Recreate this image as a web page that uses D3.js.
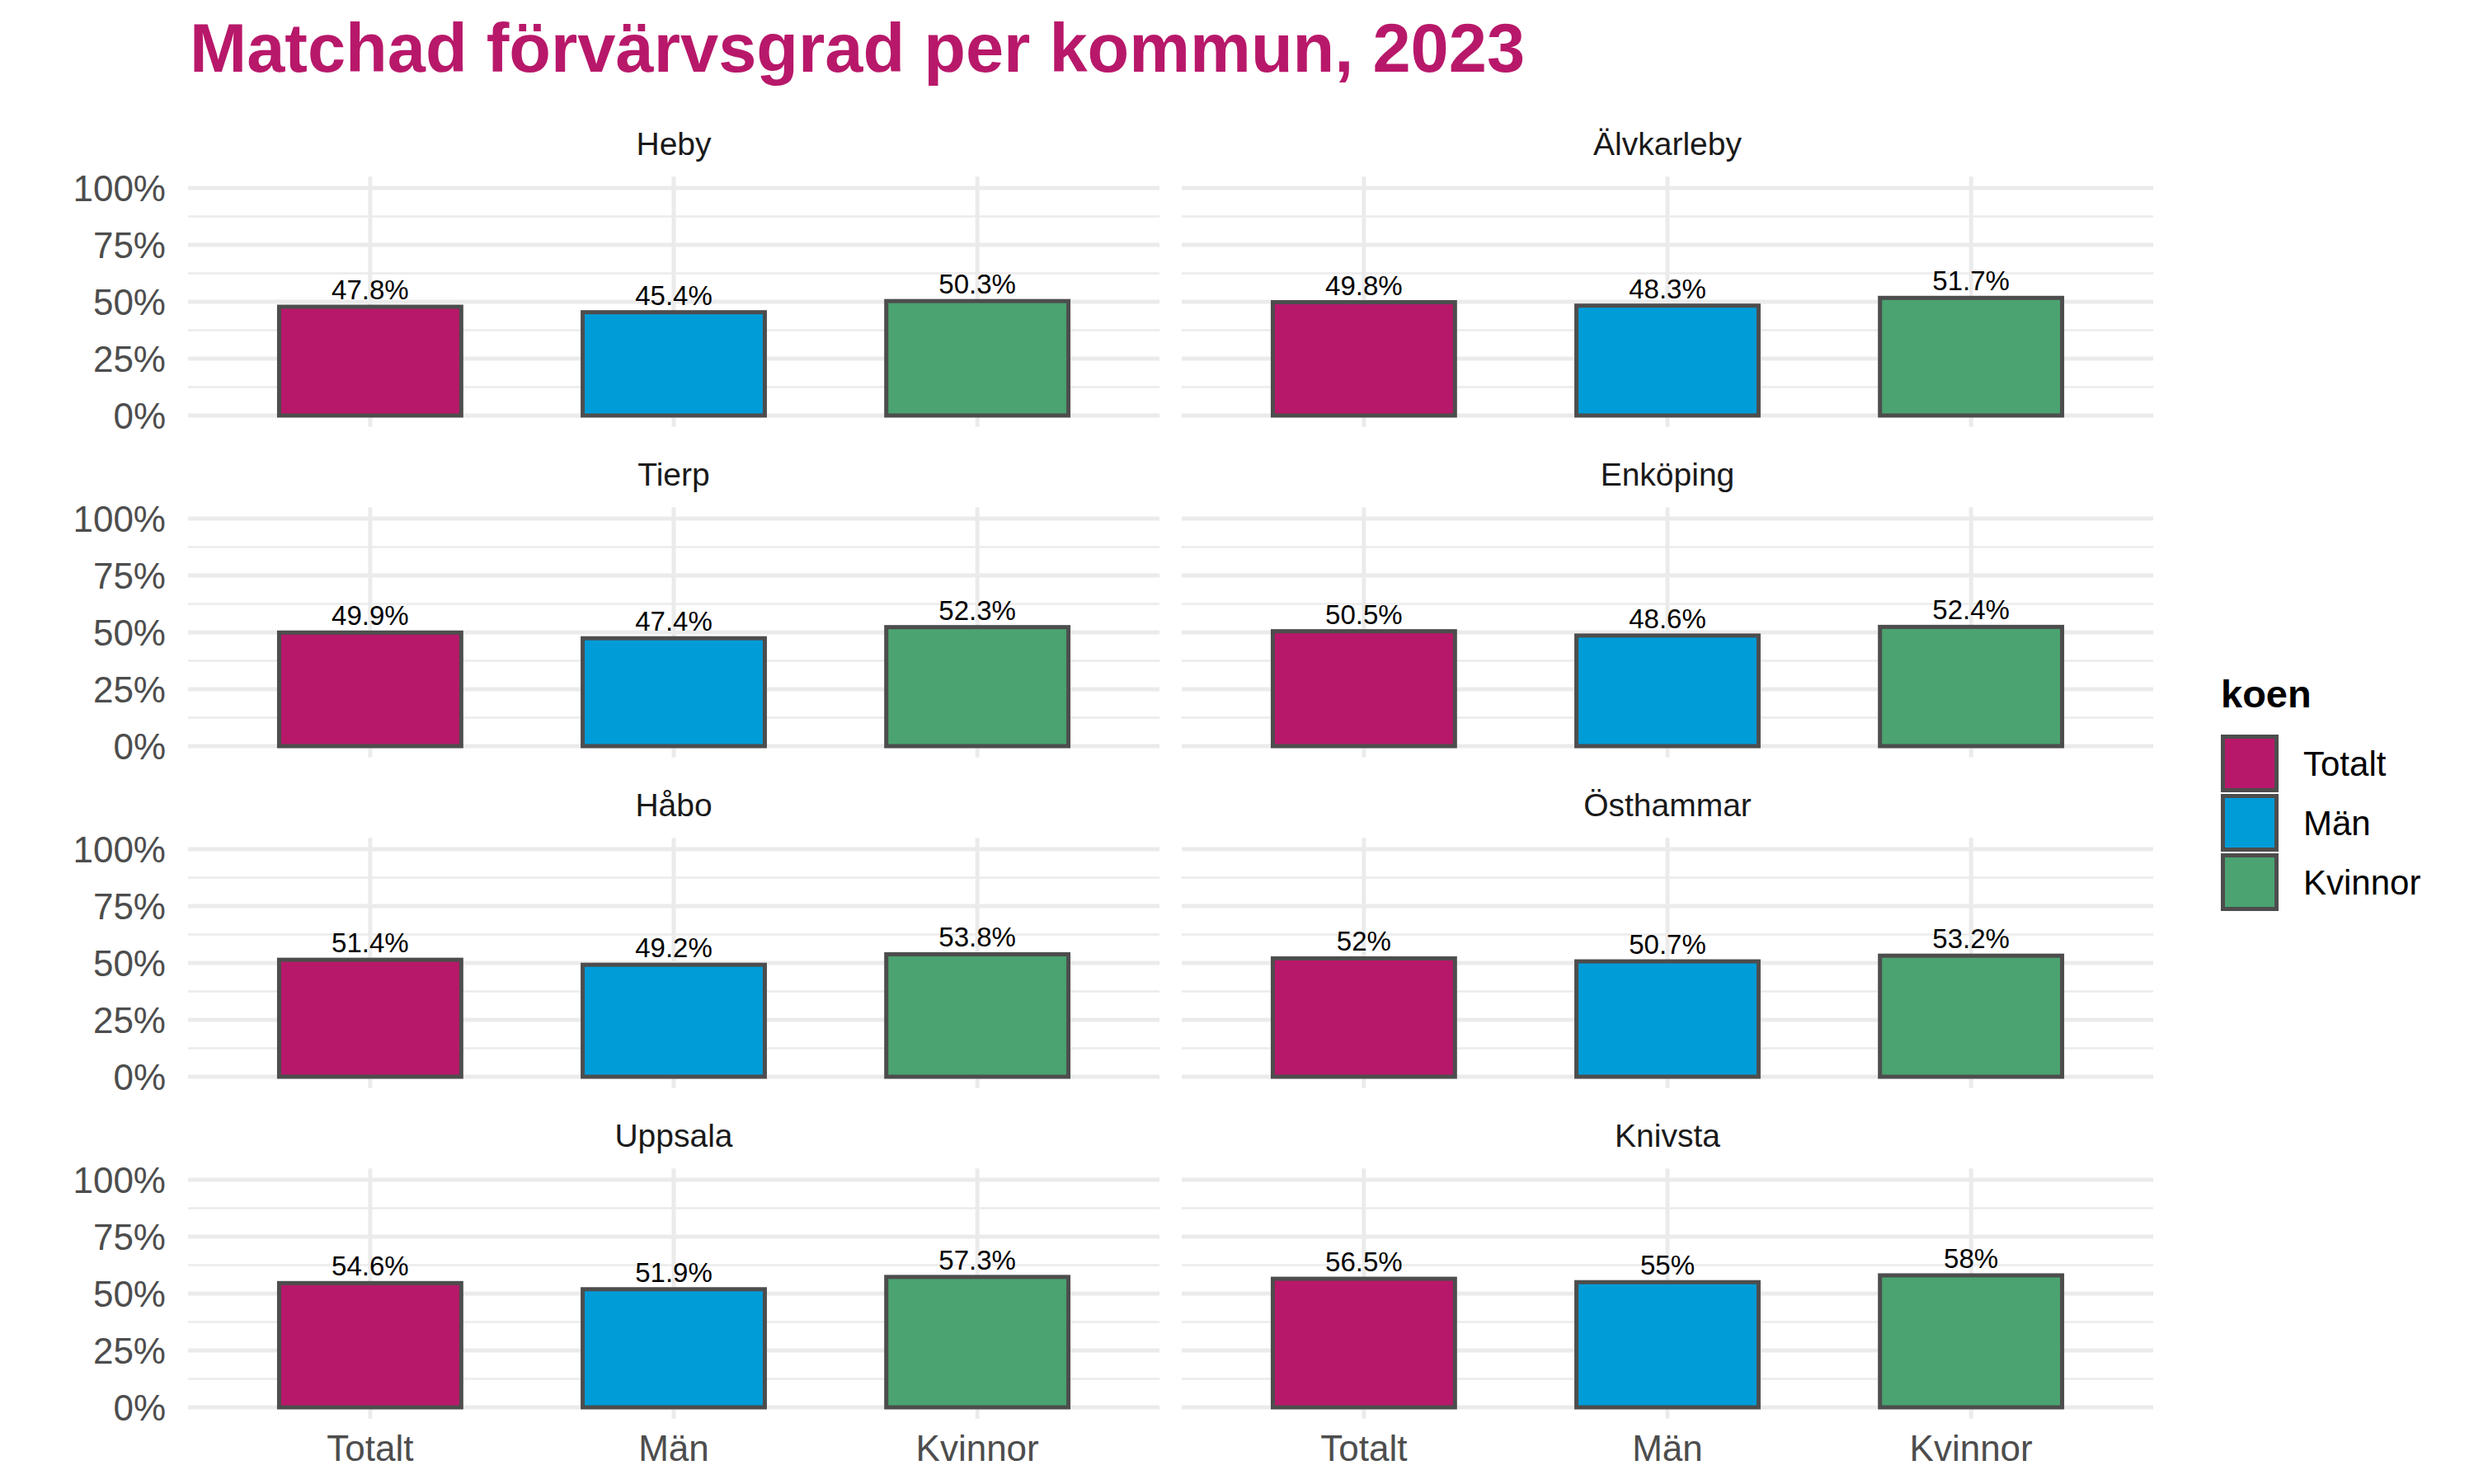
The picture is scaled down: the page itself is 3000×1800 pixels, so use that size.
<!DOCTYPE html>
<html>
<head>
<meta charset="utf-8">
<script src="https://cdn.jsdelivr.net/npm/d3@7"></script>
<style>
  body { margin: 0; background: #fff; }
  text { font-family: "Liberation Sans", Arial, sans-serif; }
</style>
</head>
<body>
<svg id="chart" width="3000" height="1800"></svg>
<script>
const kommuner = ["Heby", "Älvkarleby", "Tierp", "Enköping", "Håbo", "Östhammar", "Uppsala", "Knivsta"];
const koen = ["Totalt", "Män", "Kvinnor"];
const totalt = [47.8, 49.8, 49.9, 50.5, 51.4, 52, 54.6, 56.5];
const man = [45.4, 48.3, 47.4, 48.6, 49.2, 50.7, 51.9, 55];
const kvinnor = [50.3, 51.7, 52.3, 52.4, 53.8, 53.2, 57.3, 58];
const yTicks = [0, 25, 50, 75, 100];
const yMinor = [12.5, 37.5, 62.5, 87.5];
const colors = ["#B8186A", "#009CD8", "#4AA370"];

const svg = d3.select("#chart");
const panelW = 1178, panelH = 303.6;
const colX = [228, 1433];
const rowTop = 214.2, rowStep = 401;

const fill = d3.scaleOrdinal().domain(koen).range(colors);
const x = d3.scaleBand().domain(koen).range([0, panelW]).paddingInner(0.4).paddingOuter(0.3);
const y = d3.scaleLinear().domain([-5, 105]).range([panelH, 0]);
const fmt = v => String(v).replace(/\.0$/, "") + "%";

// title
svg.append("text")
  .attr("x", 230).attr("y", 87)
  .attr("font-size", 83).attr("font-weight", "bold")
  .attr("fill", "#B8186A")
  .text("Matchad förvärvsgrad per kommun, 2023");

kommuner.forEach((k, i) => {
  const col = i % 2, row = Math.floor(i / 2);
  const g = svg.append("g")
    .attr("transform", "translate(" + colX[col] + "," + (rowTop + row * rowStep) + ")");
  const vals = [totalt[i], man[i], kvinnor[i]];

  // grid
  g.selectAll(".minor").data(yMinor).enter().append("line")
    .attr("x1", 0).attr("x2", panelW)
    .attr("y1", d => y(d)).attr("y2", d => y(d))
    .attr("stroke", "#EBEBEB").attr("stroke-width", 2.5);
  g.selectAll(".major").data(yTicks).enter().append("line")
    .attr("x1", 0).attr("x2", panelW)
    .attr("y1", d => y(d)).attr("y2", d => y(d))
    .attr("stroke", "#EBEBEB").attr("stroke-width", 5);
  g.selectAll(".vgrid").data(koen).enter().append("line")
    .attr("x1", d => x(d) + x.bandwidth() / 2).attr("x2", d => x(d) + x.bandwidth() / 2)
    .attr("y1", 0).attr("y2", panelH)
    .attr("stroke", "#EBEBEB").attr("stroke-width", 5);

  // strip
  g.append("text")
    .attr("x", panelW / 2).attr("y", -26)
    .attr("text-anchor", "middle")
    .attr("font-size", 39).attr("fill", "#1A1A1A")
    .text(k);

  // bars
  g.selectAll(".bar").data(koen).enter().append("rect")
    .attr("x", d => x(d))
    .attr("y", (d, j) => y(vals[j]))
    .attr("width", x.bandwidth())
    .attr("height", (d, j) => y(0) - y(vals[j]))
    .attr("fill", d => fill(d))
    .attr("stroke", "#4D4D4D").attr("stroke-width", 5);

  g.selectAll(".lbl").data(koen).enter().append("text")
    .attr("x", d => x(d) + x.bandwidth() / 2)
    .attr("y", (d, j) => y(vals[j]) - 9)
    .attr("text-anchor", "middle")
    .attr("font-size", 33).attr("fill", "#000")
    .text((d, j) => fmt(vals[j]));

  // y axis labels on left column
  if (col === 0) {
    g.selectAll(".ytick").data(yTicks).enter().append("text")
      .attr("x", -27).attr("y", d => y(d))
      .attr("dy", "0.36em")
      .attr("text-anchor", "end")
      .attr("font-size", 44).attr("fill", "#4D4D4D")
      .text(d => d + "%");
  }
  // x axis labels on bottom row
  if (row === 3) {
    g.selectAll(".xtick").data(koen).enter().append("text")
      .attr("x", d => x(d) + x.bandwidth() / 2)
      .attr("y", panelH + 51)
      .attr("text-anchor", "middle")
      .attr("font-size", 44).attr("fill", "#4D4D4D")
      .text(d => d);
  }
});

// legend
const lg = svg.append("g").attr("transform", "translate(2693,0)");
lg.append("text")
  .attr("x", 0).attr("y", 858)
  .attr("font-size", 47).attr("font-weight", "bold").attr("fill", "#000")
  .text("koen");
koen.forEach((d, j) => {
  const top = 891 + j * 72;
  lg.append("rect")
    .attr("x", 2.5).attr("y", top + 2.5)
    .attr("width", 65).attr("height", 65)
    .attr("fill", fill(d))
    .attr("stroke", "#4D4D4D").attr("stroke-width", 5);
  lg.append("text")
    .attr("x", 100).attr("y", top + 35)
    .attr("dy", "0.36em")
    .attr("font-size", 42).attr("fill", "#000")
    .text(d);
});
</script>
</body>
</html>
